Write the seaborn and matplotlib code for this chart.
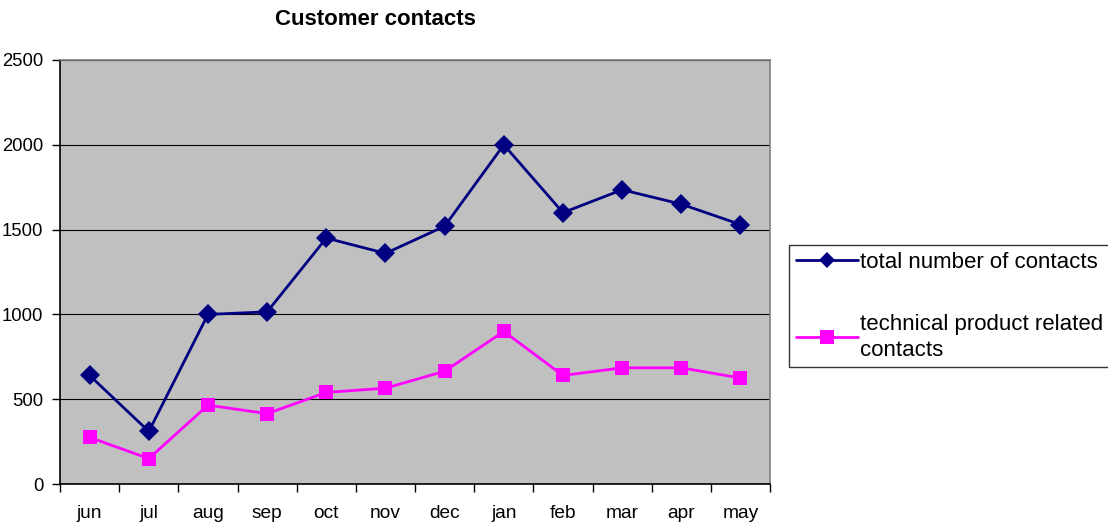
import numpy as np
import pandas as pd
import matplotlib
matplotlib.use('Agg')
import matplotlib.pyplot as plt
import seaborn as sns

months = ['jun', 'jul', 'aug', 'sep', 'oct', 'nov', 'dec', 'jan', 'feb', 'mar', 'apr', 'may']
total_contacts = [640, 310, 1000, 1015, 1450, 1360, 1520, 2000, 1600, 1735, 1650, 1530]
technical_contacts = [275, 150, 465, 415, 540, 565, 665, 900, 640, 685, 685, 625]

sns.set_style('white')
plt.rcParams['font.family'] = ['Liberation Sans', 'DejaVu Sans']
plt.rcParams['text.color'] = 'black'
plt.rcParams['xtick.color'] = 'black'
plt.rcParams['ytick.color'] = 'black'

df = pd.DataFrame({
    'month': months * 2,
    'contacts': total_contacts + technical_contacts,
    'series': ['total number of contacts'] * len(months)
              + ['technical product related\ncontacts'] * len(months),
})

fig = plt.figure(figsize=(11.08, 5.24), dpi=100)
ax = fig.add_axes([0.0542, 0.0763, 0.6408, 0.8092])
ax.set_facecolor('#c0c0c0')

sns.lineplot(data=df, x='month', y='contacts', hue='series', style='series',
             palette=['#000080', '#ff00ff'], markers=['D', 's'], dashes=False,
             markersize=10, linewidth=2, markeredgewidth=0, ax=ax)

ax.set_xlim(-0.5, len(months) - 0.5)
ax.set_ylim(0, 2500)
ax.set_yticks(range(0, 2501, 500))
ax.set_xticks(np.arange(-0.5, len(months), 1), minor=True)
ax.tick_params(axis='x', which='both', bottom=True)
ax.tick_params(axis='y', left=True)
ax.tick_params(axis='x', which='major', length=0, pad=15, labelsize=13.8)
ax.tick_params(axis='x', which='minor', length=6, width=1, color='black', direction='out')
ax.tick_params(axis='y', length=6, width=1, color='black', direction='out', labelsize=13.3, pad=6)
ax.grid(axis='y', color='black', linewidth=0.8)
ax.set_axisbelow(True)
ax.set_xlabel('')
ax.set_ylabel('')

for side in ['left', 'bottom']:
    ax.spines[side].set_color('black')
    ax.spines[side].set_linewidth(1.2)
for side in ['top', 'right']:
    ax.spines[side].set_color('#808080')
    ax.spines[side].set_linewidth(1.2)

fig.text(0.3385, 0.962, 'Customer contacts', ha='center', va='center',
         fontsize=16, fontweight='bold')

handles, labels = ax.get_legend_handles_labels()
ax.legend_.remove()
leg = fig.legend(handles, labels, loc='upper left', bbox_to_anchor=(0.712, 0.5324),
                 frameon=True, fancybox=False, edgecolor='black', fontsize=16,
                 handlelength=2.8, handletextpad=0.1, labelspacing=1.85,
                 borderpad=0.3, borderaxespad=0)
leg.get_frame().set_linewidth(1)
for t in leg.get_texts():
    t.set_linespacing(1.3)
for h, ms in zip(leg.legend_handles, [8, 10]):
    h.set_markersize(ms)

fig.savefig('out.png', dpi=100)
